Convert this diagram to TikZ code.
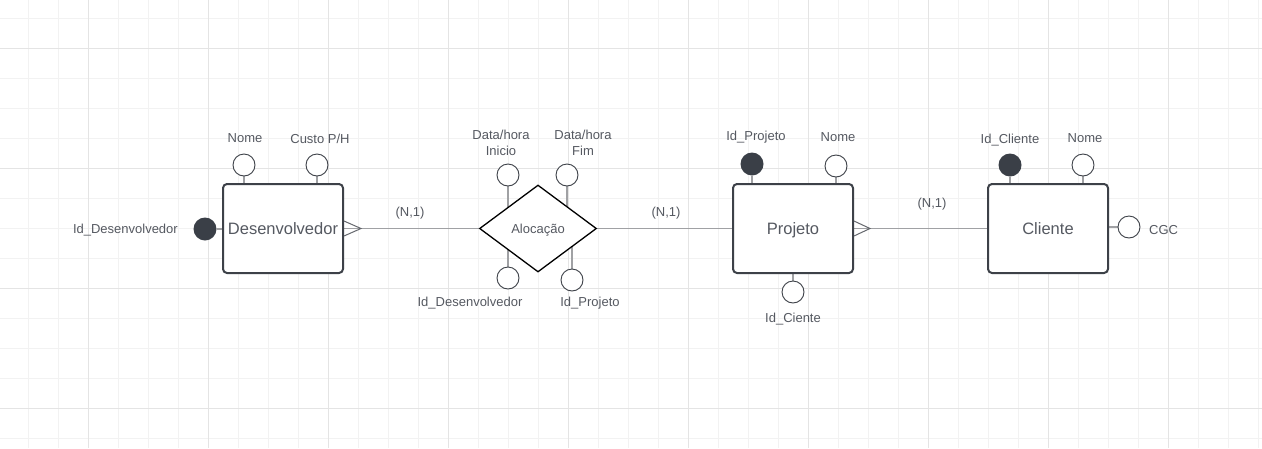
\documentclass[tikz,border=0pt]{standalone}
\usepackage{fontspec}
\setmainfont{Liberation Sans}
\usetikzlibrary{shapes.geometric,calc}
\definecolor{txtgray}{RGB}{85,89,97}
\definecolor{boxline}{RGB}{61,65,72}
\definecolor{keyfill}{RGB}{58,63,71}
\definecolor{connline}{RGB}{160,161,164}
\definecolor{minorgrid}{RGB}{242,242,242}
\definecolor{majorgrid}{RGB}{228,228,228}
\pgfdeclarelayer{bg}
\pgfdeclarelayer{lines}
\pgfsetlayers{bg,lines,main}
\tikzset{
  entity/.style={draw=boxline, line width=2pt, rounded corners=4pt, fill=white,
    minimum width=120pt, minimum height=89pt, inner sep=0pt, text=txtgray,
    text depth=0pt, font=\fontsize{16.5pt}{18pt}\selectfont},
  rel/.style={diamond, draw=black, line width=1.3pt, fill=white, inner sep=0pt,
    minimum width=117pt, minimum height=87pt, text=txtgray, text depth=0pt,
    font=\fontsize{13pt}{15pt}\selectfont},
  attr/.style={circle, draw=boxline, line width=0.9pt, fill=white, minimum size=22pt, inner sep=0pt},
  keyattr/.style={circle, fill=keyfill, minimum size=23pt, inner sep=0pt},
  lbl/.style={text=txtgray, font=\fontsize{13pt}{16pt}\selectfont, inner sep=0pt,
    align=center, text depth=0pt},
  conn/.style={draw=connline, line width=1.8pt},
  stub/.style={draw=connline, line width=1.8pt},
  crow/.style={draw=boxline!80, line width=1pt},
}
\begin{document}
\begin{tikzpicture}[x=1pt,y=-1pt]
\useasboundingbox (0,0) rectangle (1262,448);
\begin{pgfonlayer}{bg}
  \fill[white] (0,0) rectangle (1262,448);
  \foreach \x in {28,58,...,1262} \draw[minorgrid, line width=1pt] (\x,0) -- (\x,448);
  \foreach \y in {18,48,...,448} \draw[minorgrid, line width=1pt] (0,\y) -- (1262,\y);
  \foreach \x in {88,208,...,1262} \draw[majorgrid, line width=1pt] (\x,0) -- (\x,448);
  \foreach \y in {48,168,288,408} \draw[majorgrid, line width=1pt] (0,\y) -- (1262,\y);
\end{pgfonlayer}

% entities
\node[entity] (dev) at (283,228.5) {Desenvolvedor};
\node[rel] (aloc) at (538,228.5) {Alocação};
\node[entity] (proj) at (793,228.5) {Projeto};
\node[entity] (cli) at (1048,228.5) {Cliente};

% Desenvolvedor attributes
\node[keyattr] (devid) at (205,229) {};
\node[lbl, anchor=east] (devidl) at (178,229) {Id\_Desenvolvedor};
\node[attr] (devnome) at (244,165) {};
\node[lbl] (devnomel) at (245,138.5) {Nome};
\node[attr] (devcusto) at (317,165) {};
\node[lbl] (devcustol) at (320,138.5) {Custo P/H};

% Alocacao attributes
\node[attr] (alini) at (508,175) {};
\node[lbl] (alinil) at (501,142.5) {Data/hora\\Inicio};
\node[attr] (alfim) at (567,175) {};
\node[lbl] (alfiml) at (583,142.5) {Data/hora\\Fim};
\node[attr] (aldev) at (508,278) {};
\node[lbl] (aldevl) at (470,301.5) {Id\_Desenvolvedor};
\node[attr] (alproj) at (572,280) {};
\node[lbl] (alprojl) at (590,301.5) {Id\_Projeto};

% Projeto attributes
\node[keyattr] (prid) at (752,164) {};
\node[lbl] (pridl) at (756,136) {Id\_Projeto};
\node[attr] (prnome) at (836,166) {};
\node[lbl] (prnomel) at (838,137.5) {Nome};
\node[attr] (prcli) at (793,292) {};
\node[lbl] (prclil) at (793,317.5) {Id\_Ciente};

% Cliente attributes
\node[keyattr] (clid) at (1010,165) {};
\node[lbl] (clidl) at (1010,138.5) {Id\_Cliente};
\node[attr] (clnome) at (1083,165) {};
\node[lbl] (clnomel) at (1085,138.5) {Nome};
\node[attr] (clcgc) at (1129,227) {};
\node[lbl, anchor=west] (clcgcl) at (1149,229.5) {CGC};

% cardinality labels
\node[lbl] (c1) at (410,211.5) {(N,1)};
\node[lbl] (c2) at (666,211.5) {(N,1)};
\node[lbl] (c3) at (932,202.5) {(N,1)};

\begin{pgfonlayer}{lines}
  % relationships
  \draw[conn] (dev.east) -- (aloc.west);
  \draw[conn] (aloc.east) -- (proj.west);
  \draw[conn] (proj.east) -- (cli.west);
  % attribute stubs
  \draw[stub] (devid) -- (dev.west |- devid);
  \draw[stub] (devnome) -- (devnome |- dev.north);
  \draw[stub] (devcusto) -- (devcusto |- dev.north);
  \draw[stub] (alini) -- (alini |- aloc.center);
  \draw[stub] (alfim) -- (alfim |- aloc.center);
  \draw[stub] (aldev) -- (aldev |- aloc.center);
  \draw[stub] (alproj) -- (alproj |- aloc.center);
  \draw[stub] (prid) -- (prid |- proj.north);
  \draw[stub] (prnome) -- (prnome |- proj.north);
  \draw[stub] (prcli) -- (prcli |- proj.south);
  \draw[stub] (clid) -- (clid |- cli.north);
  \draw[stub] (clnome) -- (clnome |- cli.north);
  \draw[stub] (clcgc) -- (cli.east |- clcgc);
\end{pgfonlayer}

% crow's feet
\coordinate (cf1) at ($(dev.east)+(17,0)$);
\draw[crow] ($(dev.east)+(0,-7.5)$) -- (cf1) -- ($(dev.east)+(0,7.5)$);
\coordinate (cf2) at ($(proj.east)+(16,0)$);
\draw[crow] ($(proj.east)+(0,-7.5)$) -- (cf2) -- ($(proj.east)+(0,7.5)$);
\end{tikzpicture}
\end{document}
